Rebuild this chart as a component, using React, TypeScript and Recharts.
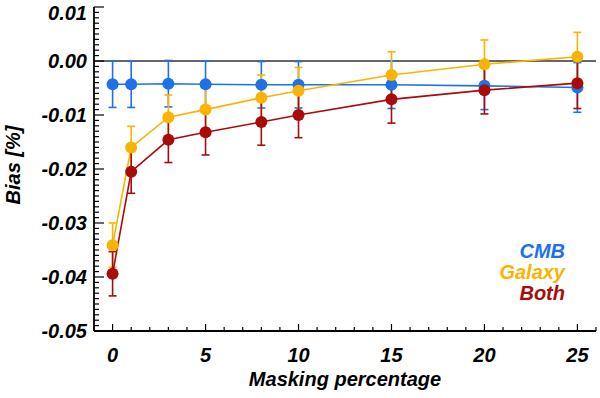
import {
  ComposedChart,
  Line,
  XAxis,
  YAxis,
  ReferenceLine,
  ErrorBar,
  Label,
} from 'recharts';

// masking percentage (x) and bias values
const masking = [0, 1, 3, 5, 8, 10, 15, 20, 25];

const cmbBias = [-0.0043, -0.0043, -0.0042, -0.0043, -0.0044, -0.0044, -0.0044, -0.0046, -0.0049];
const cmbErr = [0.0043, 0.0043, 0.0043, 0.0043, 0.0043, 0.0043, 0.0044, 0.0044, 0.0046];

const galaxyBias = [-0.0341, -0.016, -0.0104, -0.009, -0.0068, -0.0055, -0.0026, -0.0006, 0.0008];
const galaxyErr = [0.0041, 0.0039, 0.0041, 0.0042, 0.0042, 0.0043, 0.0043, 0.0045, 0.0045];

const bothBias = [-0.0394, -0.0205, -0.0146, -0.0132, -0.0113, -0.01, -0.0071, -0.0054, -0.0041];
const bothErr = [0.0041, 0.004, 0.0042, 0.0042, 0.0043, 0.0042, 0.0044, 0.0044, 0.0047];

const xMajorTicks = [0, 5, 10, 15, 20, 25];
const yMajorTicks = [-0.05, -0.04, -0.03, -0.02, -0.01, 0, 0.01];

// minor ticks: every 1 on x, every 0.001 on y
const xTicks: number[] = [];
for (let i = -1; i <= 26; i++) xTicks.push(i);
const yTicks: number[] = [];
for (let i = -50; i <= 10; i++) yTicks.push(i / 1000);

const series = [
  { key: 'cmb', err: 'cmbErr', name: 'CMB', color: '#1f72e6' },
  { key: 'galaxy', err: 'galaxyErr', name: 'Galaxy', color: '#f8b400' },
  { key: 'both', err: 'bothErr', name: 'Both', color: '#a90b0b' },
];

const data = masking.map((x, i) => ({
  x,
  cmb: cmbBias[i],
  cmbErr: cmbErr[i],
  galaxy: galaxyBias[i],
  galaxyErr: galaxyErr[i],
  both: bothBias[i],
  bothErr: bothErr[i],
}));

const FONT = "'Liberation Sans', Arial, Helvetica, sans-serif";
const textStyle = { fontFamily: FONT, fontWeight: 700, fontStyle: 'italic', fontSize: 20 };

const isMajorX = (v: number) => xMajorTicks.includes(v);
const isMajorY = (v: number) => yMajorTicks.some((t) => Math.abs(t - v) < 1e-9);

function BottomTick({ x, y, payload }: any) {
  const major = isMajorX(payload.value);
  return (
    <g>
      <line x1={x} y1={y} x2={x} y2={y - (major ? 7 : 4)} stroke="#000" strokeWidth={1.2} />
      {major && (
        <text x={x} y={y + 31} textAnchor="middle" fill="#000" style={textStyle}>
          {payload.value}
        </text>
      )}
    </g>
  );
}

function TopTick({ x, y, payload }: any) {
  const major = isMajorX(payload.value);
  return <line x1={x} y1={y} x2={x} y2={y + (major ? 7 : 4)} stroke="#000" strokeWidth={1.2} />;
}

function LeftTick({ x, y, payload }: any) {
  const major = isMajorY(payload.value);
  const label = Math.abs(payload.value) < 1e-9 ? '0.00' : payload.value.toFixed(2);
  // the top label sits a little lower so it stays inside the picture
  const dy = y < 20 ? 13 : 7;
  return (
    <g>
      <line x1={x} y1={y} x2={x + (major ? 10 : 5)} y2={y} stroke="#000" strokeWidth={1.2} />
      {major && (
        <text x={x - 7} y={y + dy} textAnchor="end" fill="#000" style={textStyle}>
          {label}
        </text>
      )}
    </g>
  );
}

function RightTick({ x, y, payload }: any) {
  const major = isMajorY(payload.value);
  return <line x1={x} y1={y} x2={x - (major ? 10 : 5)} y2={y} stroke="#000" strokeWidth={1.2} />;
}

function SeriesKey() {
  return (
    <g>
      {series.map((s, i) => (
        <text key={s.key} x={565} y={258 + i * 21} textAnchor="end" fill={s.color} style={textStyle}>
          {s.name}
        </text>
      ))}
    </g>
  );
}

const axisLine = { stroke: '#000', strokeWidth: 1.8 };

export default function App() {
  return (
    <div style={{ width: 600, height: 398, background: '#fff' }}>
      <style>{'body{margin:0}'}</style>
      <ComposedChart
        width={600}
        height={398}
        data={data}
        margin={{ top: 7, right: 4, bottom: 0, left: 0 }}
      >
        <XAxis
          type="number"
          dataKey="x"
          domain={[-1, 26]}
          ticks={xTicks}
          interval={0}
          height={67}
          tickSize={0}
          tickMargin={0}
          tickLine={false}
          tick={BottomTick}
          axisLine={axisLine}
          allowDataOverflow
        >
          <Label
            content={({ viewBox }: any) => (
              <text
                x={viewBox.x + viewBox.width / 2}
                y={viewBox.y + 55}
                textAnchor="middle"
                fill="#000"
                style={textStyle}
              >
                Masking percentage
              </text>
            )}
          />
        </XAxis>
        <XAxis
          xAxisId="top"
          orientation="top"
          type="number"
          domain={[-1, 26]}
          ticks={xTicks}
          interval={0}
          height={0}
          tickSize={0}
          tickMargin={0}
          tickLine={false}
          tick={TopTick}
          axisLine={axisLine}
          allowDataOverflow
        />
        <YAxis
          type="number"
          domain={[-0.05, 0.01]}
          ticks={yTicks}
          interval={0}
          width={94}
          tickSize={0}
          tickMargin={0}
          tickLine={false}
          tick={LeftTick}
          axisLine={axisLine}
          allowDataOverflow
        >
          <Label
            content={({ viewBox }: any) => {
              const cx = viewBox.x + 20;
              const cy = viewBox.y + viewBox.height / 2 - 4;
              return (
                <text
                  x={cx}
                  y={cy}
                  textAnchor="middle"
                  fill="#000"
                  transform={`rotate(-90, ${cx}, ${cy})`}
                  style={textStyle}
                >
                  Bias [%]
                </text>
              );
            }}
          />
        </YAxis>
        <YAxis
          yAxisId="right"
          orientation="right"
          type="number"
          domain={[-0.05, 0.01]}
          ticks={yTicks}
          interval={0}
          width={0}
          tickSize={0}
          tickMargin={0}
          tickLine={false}
          tick={RightTick}
          axisLine={axisLine}
          allowDataOverflow
        />
        <ReferenceLine y={0} stroke="#333" strokeWidth={1.6} />
        {series.map((s) => (
          <Line
            key={s.key}
            type="linear"
            dataKey={s.key}
            stroke={s.color}
            strokeWidth={1.6}
            dot={{ r: 6, fill: s.color, stroke: s.color, strokeWidth: 0 }}
            activeDot={false}
            isAnimationActive={false}
          >
            <ErrorBar dataKey={s.err} width={4} stroke={s.color} strokeWidth={1.6} direction="y" />
          </Line>
        ))}
        <SeriesKey />
      </ComposedChart>
    </div>
  );
}
